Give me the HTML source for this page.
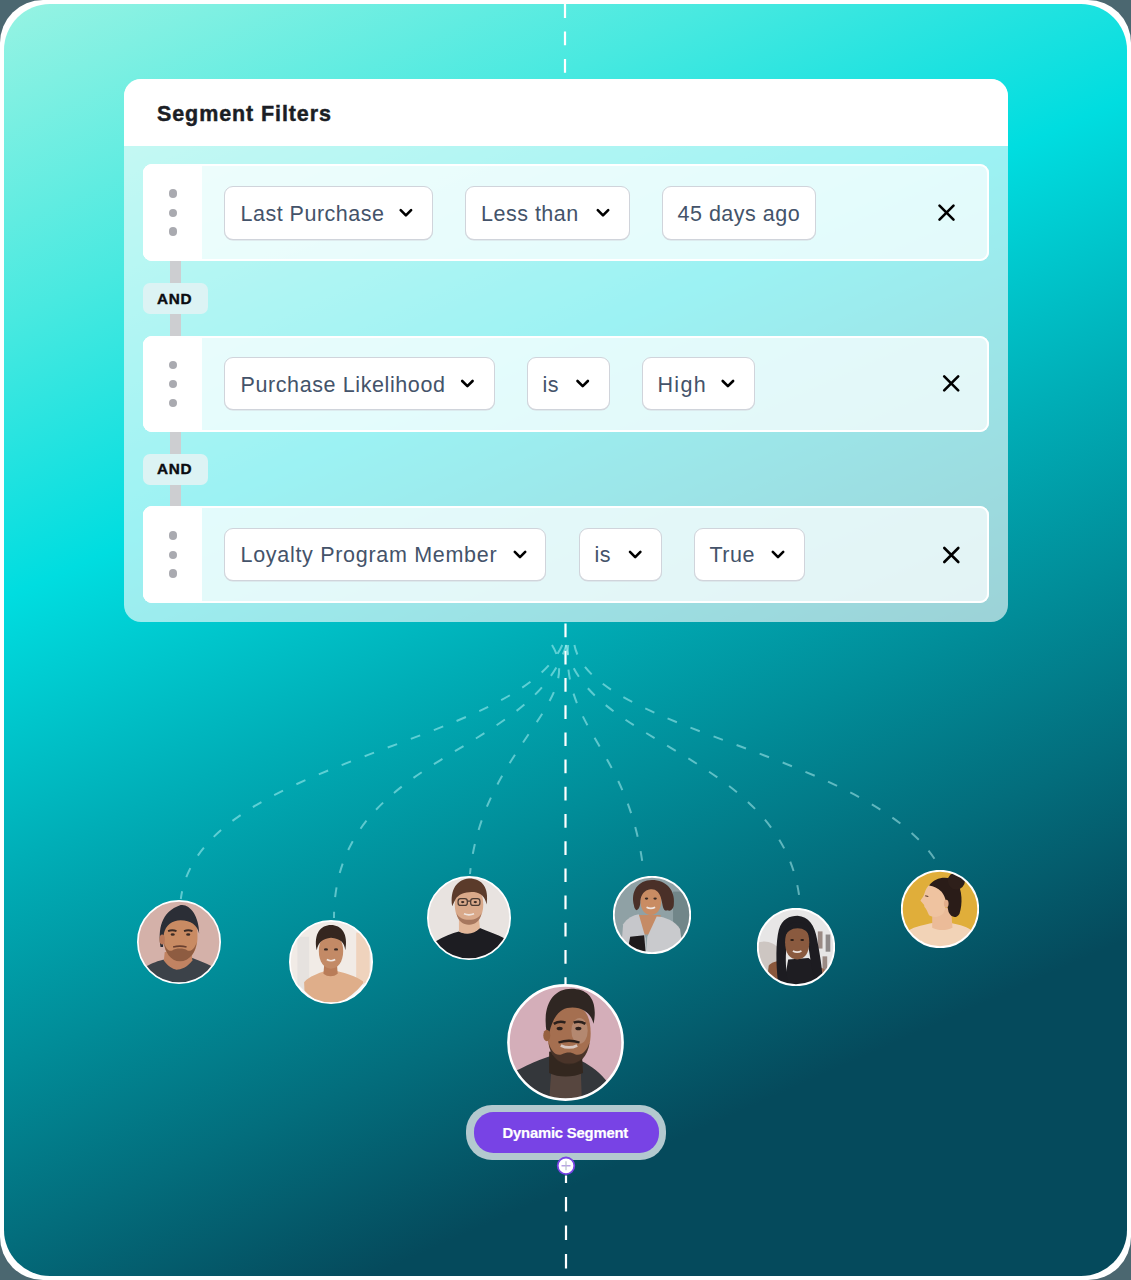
<!DOCTYPE html>
<html><head><meta charset="utf-8">
<style>
html,body{margin:0;padding:0}
body{width:1131px;height:1280px;position:relative;overflow:hidden;background:#4b6770;font-family:"Liberation Sans",sans-serif}
.abs{position:absolute}
#frame{left:0;top:0;width:1131px;height:1280px;border-radius:43px;background:#fff}
#bg{left:4px;top:4px;width:1123px;height:1272px;border-radius:46px;
 background:linear-gradient(156deg,#97f3e3 0%,#48e9e0 18%,#00dde0 33.5%,#00aeb7 48.6%,#018c98 60%,#036d7c 70%,#054a5c 81%,#054a5c 100%)}
#card{left:124px;top:79px;width:884px;height:543px;border-radius:17px;overflow:hidden;background:rgba(255,255,255,0.61)}
#hdr{left:0;top:0;width:884px;height:66.5px;background:#fff}
.t{position:absolute;line-height:1;white-space:nowrap}
.title{font-size:21.5px;font-weight:700;color:#1b1e25;letter-spacing:0.9px;-webkit-text-stroke:0.45px #1b1e25}
.row{position:absolute;left:142.8px;width:846.2px;height:96.3px;border-radius:9px;background:rgba(255,255,255,0.72);box-sizing:border-box;overflow:hidden;box-shadow:inset 0 0 0 2px #fff}
.grip{position:absolute;left:0;top:0;width:59px;height:100%;background:#fff}
.dot{position:absolute;left:25.8px;width:8.2px;height:8.2px;border-radius:50%;background:#a9aab0}
.chip{position:absolute;height:53.7px;box-sizing:border-box;border:1.2px solid #d0d4db;border-radius:9px;background:#fff;box-shadow:0 0.6px 0 #d5d9df}
.ct{font-size:21.5px;color:#44536a;letter-spacing:0.5px}
.and{position:absolute;left:143px;width:65px;height:30.5px;border-radius:7px;background:#dcf3f4}
.andt{font-size:15.3px;font-weight:700;color:#0b0d10;letter-spacing:0.75px;-webkit-text-stroke:0.4px #0b0d10}
.bar{position:absolute;left:170.3px;width:10.5px;background:#cdced1}
</style></head><body>
<div id="frame" class="abs"></div>
<div id="bg" class="abs"></div>

<!-- lines -->
<svg class="abs" style="left:0;top:0" width="1131" height="1280" viewBox="0 0 1131 1280">
 <g stroke="#fff" stroke-width="2.2" fill="none">
  <line x1="565" y1="4" x2="565" y2="79" stroke-dasharray="13.9 13.55" stroke-dashoffset="0"/>
  <line x1="565.5" y1="623.6" x2="565.5" y2="985" stroke-dasharray="13.7 13.5"/>
  <line x1="566" y1="1175.4" x2="566" y2="1276" stroke-dasharray="14.3 14.2" stroke-dashoffset="6.8"/>
 </g>
 <g stroke="rgba(200,255,255,0.47)" stroke-width="2" fill="none" stroke-dasharray="10 14.6">
  <path d="M562.3 645 C516.7 746.7, 198.7 758.7, 180.8 899"/>
  <path d="M566.3 645 C530.7 757.4, 334.1 754.6, 334 918"/>
  <path d="M552 645 C587.1 702.3, 481.8 749.5, 470 874"/>
  <path d="M568.1 645 C561.9 730.7, 631 749.6, 644 875.5"/>
  <path d="M565.8 645 C583.4 745.2, 784.1 754.1, 799.8 901"/>
  <path d="M574.4 645 C591.7 733.7, 881.9 753.3, 941.5 870.7"/>
 </g>
</svg>

<div id="card" class="abs">
 <div id="hdr" class="abs"></div>
</div>
<div class="t title" style="left:157px;top:104.4px">Segment Filters</div>

<!-- connector bars -->
<div class="bar" style="top:261px;height:75px"></div>
<div class="bar" style="top:432px;height:75px"></div>

<!-- row 1 -->
<div class="row" style="top:164.4px"><div class="grip"></div>
 <div class="dot" style="top:25.1px"></div><div class="dot" style="top:44.2px"></div><div class="dot" style="top:63px"></div></div>
<div class="and" style="top:283px"></div>
<div class="t andt" style="left:157px;top:290.7px">AND</div>
<!-- row 2 -->
<div class="row" style="top:335.6px"><div class="grip"></div>
 <div class="dot" style="top:25.1px"></div><div class="dot" style="top:44.2px"></div><div class="dot" style="top:63px"></div></div>
<div class="and" style="top:454px"></div>
<div class="t andt" style="left:157px;top:461.2px">AND</div>
<!-- row 3 -->
<div class="row" style="top:506.4px"><div class="grip"></div>
 <div class="dot" style="top:25.1px"></div><div class="dot" style="top:44.2px"></div><div class="dot" style="top:63px"></div></div>

<!-- chips -->
<div class="chip" style="left:223.8px;top:185.9px;width:208.8px"></div>
<div class="chip" style="left:464.7px;top:185.9px;width:165.1px"></div>
<div class="chip" style="left:661.9px;top:185.9px;width:154.2px"></div>
<div class="chip" style="left:224.0px;top:356.8px;width:270.9px"></div>
<div class="chip" style="left:526.9px;top:356.8px;width:82.7px"></div>
<div class="chip" style="left:641.8px;top:356.8px;width:112.8px"></div>
<div class="chip" style="left:224.2px;top:527.7px;width:321.9px"></div>
<div class="chip" style="left:578.9px;top:527.7px;width:82.7px"></div>
<div class="chip" style="left:694.0px;top:527.7px;width:110.6px"></div>

<div class="t ct" style="left:240.5px;top:203.8px">Last Purchase</div>
<div class="t ct" style="left:481px;top:203.8px">Less than</div>
<div class="t ct" style="left:677.5px;top:203.8px">45 days ago</div>
<div class="t ct" style="left:240.5px;top:374.5px;letter-spacing:0.6px">Purchase Likelihood</div>
<div class="t ct" style="left:542.5px;top:374.5px">is</div>
<div class="t ct" style="left:657.5px;top:374.5px;letter-spacing:1.3px">High</div>
<div class="t ct" style="left:240.5px;top:545.4px;letter-spacing:0.7px">Loyalty Program Member</div>
<div class="t ct" style="left:594.5px;top:545.4px">is</div>
<div class="t ct" style="left:709.5px;top:545.4px">True</div>

<!-- icons -->
<svg class="abs" style="left:0;top:0" width="1131" height="1280" viewBox="0 0 1131 1280">
 <g stroke="#000" stroke-width="2.6" fill="none" stroke-linecap="round" stroke-linejoin="round">
  <path d="M400.7 210.1 L405.9 215.3 L411.1 210.1"/>
  <path d="M597.8 210.1 L603 215.3 L608.2 210.1"/>
  <path d="M462.2 381 L467.4 386.2 L472.6 381"/>
  <path d="M577.5 381 L582.7 386.2 L587.9 381"/>
  <path d="M722.7 381 L727.9 386.2 L733.1 381"/>
  <path d="M514.8 551.9 L520 557.1 L525.2 551.9"/>
  <path d="M630 551.9 L635.2 557.1 L640.4 551.9"/>
  <path d="M772.8 551.9 L778 557.1 L783.2 551.9"/>
 </g>
 <g stroke="#000" stroke-width="2.6" fill="none" stroke-linecap="round">
  <path d="M939.5 205.6 L953.5 219.6 M953.5 205.6 L939.5 219.6"/>
  <path d="M944.2 376.4 L958.2 390.4 M958.2 376.4 L944.2 390.4"/>
  <path d="M944.3 548 L958.3 562 M958.3 548 L944.3 562"/>
 </g>
</svg>


<!-- avatars -->
<svg class="abs" style="left:136.5px;top:900px" width="84" height="84" viewBox="0 0 100 100">
 <defs><clipPath id="c1"><circle cx="50" cy="50" r="49"/></clipPath></defs>
 <g clip-path="url(#c1)">
  <rect width="100" height="100" fill="#d4b1a9"/>
  <path d="M8 100 L11 79 C18 75 26 72 31 71 L66 69 C74 72 82 75 89 79 L94 100 Z" fill="#3c4249"/>
  <path d="M33 62 L65 62 L66 72 C60 80 52 83 47 83 C42 82 36 78 32 72 Z" fill="#c18362"/>
  <path d="M31 42 C31 22 40 18 52 18 C64 18 73 24 72 44 C72 58 66 72 51 73 C37 72 31 58 31 42 Z" fill="#c98b63"/>
  <path d="M32 50 C33 62 40 73 51 73 C63 73 70 62 71 50 C69 58 64 62 60 60 C56 57 46 57 42 60 C38 62 34 58 32 50 Z" fill="#8e5c41"/>
  <path d="M43 56 Q51 54 59 56" stroke="#6a4030" stroke-width="2" fill="none"/>
  <path d="M37 37 Q42 35 47 37 M56 37 Q61 35 66 37" stroke="#3a2a24" stroke-width="2.2" fill="none"/>
  <ellipse cx="42.5" cy="41" rx="2.5" ry="1.5" fill="#3a2a24"/><ellipse cx="61" cy="41" rx="2.5" ry="1.5" fill="#3a2a24"/>
  <path d="M28 56 C25 36 28 14 52 6 C62 4 74 18 74 40 C72 30 64 24 52 24 C42 24 34 30 32 40 L31 56 Z" fill="#2b2e36"/>
  <ellipse cx="30" cy="47" rx="3.2" ry="6" fill="#b9795a"/>
 </g>
 <circle cx="50" cy="50" r="49" fill="none" stroke="#fff" stroke-width="2"/>
</svg>

<svg class="abs" style="left:288.5px;top:920px" width="84" height="84" viewBox="0 0 100 100">
 <defs><clipPath id="c2"><circle cx="50" cy="50" r="49"/></clipPath></defs>
 <g clip-path="url(#c2)">
  <rect width="100" height="100" fill="#f1ebe6"/>
  <rect x="80" y="15" width="16" height="60" fill="#efd3bd"/>
  <rect x="10" y="20" width="14" height="65" fill="#e6e2df"/>
  <path d="M19 100 L18 74 C24 67 36 63 42 61 L58 61 C66 63 80 67 88 73 L92 100 Z" fill="#dfae8a"/>
  <path d="M8 100 L12 78 C18 84 26 92 36 98 L40 100 Z" fill="#f4f6f8"/>
  <path d="M58 100 C70 94 80 86 88 76 L96 84 L96 100 Z" fill="#f4f6f8"/>
  <path d="M42 52 L57 52 L58 64 C53 68 46 68 41 64 Z" fill="#b97c58"/>
  <path d="M35.5 37 C35.5 24 42 17 50 17 C58 17 64.5 24 64.5 37 C64.5 50 58 58 50 58 C42 58 35.5 50 35.5 37 Z" fill="#c38a66"/>
  <path d="M45 47 Q50 50 55 47" stroke="#f0e6e1" stroke-width="2" fill="none"/>
  <ellipse cx="44" cy="35" rx="2.4" ry="1.4" fill="#3a2a24"/><ellipse cx="56" cy="35" rx="2.4" ry="1.4" fill="#3a2a24"/>
  <path d="M33 36 C29 16 38 6 50 6 C62 6 71 16 67 36 C66 26 61 22 50 21 C40 22 35 26 33 36 Z" fill="#35261f"/>
 </g>
 <circle cx="50" cy="50" r="49" fill="none" stroke="#fff" stroke-width="2"/>
</svg>

<svg class="abs" style="left:426.5px;top:876px" width="84" height="84" viewBox="0 0 100 100">
 <defs><clipPath id="c3"><circle cx="50" cy="50" r="49"/></clipPath></defs>
 <g clip-path="url(#c3)">
  <rect width="100" height="100" fill="#e8e3e0"/>
  <path d="M6 100 L10 78 C20 72 30 68 38 66 C46 70 56 68 63 62 C72 66 84 70 92 74 L96 100 Z" fill="#1d1d22"/>
  <path d="M38 52 L62 52 L63 62 C56 70 46 70 38 66 Z" fill="#e2b698"/>
  <path d="M33 34 C33 18 40 12 50 12 C60 12 67 18 67 34 C67 48 60 58 50 58 C40 58 33 48 33 34 Z" fill="#d9a98a"/>
  <path d="M35 44 C37 54 43 58 50 58 C57 58 63 54 65 44 C62 50 57 52 50 52 C43 52 38 50 35 44 Z" fill="#a7775e"/>
  <path d="M44 45 Q50 47.5 56 45" stroke="#efe4de" stroke-width="2" fill="none"/>
  <g fill="none" stroke="#4a3a32" stroke-width="1.5"><rect x="37" y="27" width="11" height="8" rx="3"/><rect x="52" y="27" width="11" height="8" rx="3"/><path d="M48 30 L52 30"/></g>
  <ellipse cx="42.5" cy="31" rx="2" ry="1.3" fill="#3a2a24"/><ellipse cx="57.5" cy="31" rx="2" ry="1.3" fill="#3a2a24"/>
  <path d="M30 36 C27 16 36 4 50 3 C66 3 74 14 71 34 C69 24 64 20 56 19 C48 19 40 20 35 26 C33 29 32 32 30 36 Z" fill="#5b3b2b"/>
 </g>
 <circle cx="50" cy="50" r="49" fill="none" stroke="#fff" stroke-width="2"/>
</svg>

<svg class="abs" style="left:612.7px;top:876px" width="78" height="78" viewBox="0 0 100 100">
 <defs><clipPath id="c4"><circle cx="50" cy="50" r="49"/></clipPath></defs>
 <g clip-path="url(#c4)">
  <rect width="100" height="100" fill="#8fa1a5"/>
  <rect x="77" y="20" width="23" height="80" fill="#718689"/>
  <path d="M31 50 L61 50 L60 75 L33 75 Z" fill="#c58b65"/>
  <path d="M17 100 L18 72 L40 100 Z" fill="#1f1b1c"/>
  <path d="M10 100 L13 62 C18 54 26 50 33 49 L42 80 L42 100 Z" fill="#c6c7cb"/>
  <path d="M42 100 L44 78 L56 52 C66 52 80 58 86 68 L90 100 Z" fill="#c9cacd"/>
  <path d="M18 100 L22 78 L40 76 L42 100 Z" fill="#1f1b1c"/>
  <path d="M35 31 C35 18 41 12 48.5 12 C56 12 62 18 62 31 C62 43 56 50 48.5 50 C41 50 35 43 35 31 Z" fill="#c98c63"/>
  <path d="M43 40 Q48.5 43 54 40" stroke="#f0e6e1" stroke-width="2.2" fill="none"/>
  <ellipse cx="43" cy="29" rx="2.2" ry="1.3" fill="#3a2a24"/><ellipse cx="54" cy="29" rx="2.2" ry="1.3" fill="#3a2a24"/>
  <path d="M27 38 C22 20 32 5 50 5 C68 5 80 18 78 36 C78 42 74 46 70 44 C64 46 64 38 62 30 C60 20 54 16 48 17 C40 18 36 24 35 32 C35 38 34 42 30 44 C28 42 27 40 27 38 Z" fill="#4a3028"/>
 </g>
 <circle cx="50" cy="50" r="49" fill="none" stroke="#fff" stroke-width="2.4"/>
</svg>

<svg class="abs" style="left:756.7px;top:908px" width="78" height="78" viewBox="0 0 100 100">
 <defs><clipPath id="c5"><circle cx="50" cy="50" r="49"/></clipPath></defs>
 <g clip-path="url(#c5)">
  <rect width="100" height="100" fill="#e7e6e6"/>
  <path d="M0 45 C10 40 22 44 28 52 L28 100 L0 100 Z" fill="#cdc6c2"/>
  <rect x="78" y="30" width="6" height="22" fill="#9a8a84"/><rect x="88" y="34" width="6" height="22" fill="#8f8a8a"/>
  <rect x="84" y="62" width="6" height="20" fill="#9a8a84"/>
  <path d="M12 100 L15 74 C18 70 24 68 30 68 L36 100 Z" fill="#8a583c"/>
  <path d="M76 100 L78 76 C84 76 90 80 93 86 L92 100 Z" fill="#9b6a52"/>
  <path d="M34 100 L40 66 L66 64 L80 74 L82 100 Z" fill="#1e1d22"/>
  <path d="M27 96 C24 70 24 44 28 28 C32 14 42 10 52 10 C66 11 74 22 77 40 C80 56 84 78 84 92 L74 94 C70 78 68 62 66 50 L38 50 C36 64 37 80 40 98 Z" fill="#1d1c21"/>
  <path d="M36 44 C36 30 42 22 51.5 22 C61 22 67 30 67 44 C67 58 61 66 51.5 66 C42 66 36 58 36 44 Z" fill="#8a5a3f"/>
  <path d="M46 55 Q51.5 58 57 55" stroke="#ece2dd" stroke-width="2.2" fill="none"/>
  <ellipse cx="45" cy="41" rx="2.4" ry="1.4" fill="#2a1c16"/><ellipse cx="58" cy="41" rx="2.4" ry="1.4" fill="#2a1c16"/>
  <path d="M34 40 C34 26 40 18 52 18 C64 18 70 26 69 40 C66 30 60 26 52 26 C44 26 38 30 34 40 Z" fill="#1d1c21"/>
 </g>
 <circle cx="50" cy="50" r="49" fill="none" stroke="#fff" stroke-width="2.4"/>
</svg>

<svg class="abs" style="left:900.8px;top:870px" width="78" height="78" viewBox="0 0 100 100">
 <defs><clipPath id="c6"><circle cx="50" cy="50" r="49"/></clipPath></defs>
 <g clip-path="url(#c6)">
  <rect width="100" height="100" fill="#e0ae3a"/>
  <path d="M6 100 L9 78 C18 72 32 70 40 68 L64 68 C76 70 86 74 92 78 L96 100 Z" fill="#f2d3b7"/>
  <path d="M26 90 L34 100 L24 100 Z" fill="#f6f2ee"/>
  <path d="M40 50 L64 48 L66 74 C58 78 48 78 40 74 Z" fill="#ebbb98"/>
  <path d="M37 19 C44 16 52 20 56 28 C58 40 58 50 54 56 C50 60 42 62 36 58 C34 54 33 50 30 47 C30 45 29 44 28 43 C27 41 25 40 25 39 C27 36 29 34 30 30 C32 24 34 21 37 19 Z" fill="#efc3a0"/>
  <path d="M36 20 C44 8 62 7 71 15 C79 25 79 44 75 56 C71 63 64 61 61 54 C59 44 57 34 52 28 C47 23 42 21 36 20 Z" fill="#2a1c18"/>
  <circle cx="71" cy="14" r="11" fill="#2e1f1a"/>
  <ellipse cx="58" cy="43" rx="3" ry="5" fill="#e2ad8a"/>
  <path d="M31 33 L35 34" stroke="#5a3a2a" stroke-width="1.4"/>
 </g>
 <circle cx="50" cy="50" r="49" fill="none" stroke="#fff" stroke-width="2.4"/>
</svg>

<svg class="abs" style="left:506.6px;top:984px" width="117" height="117" viewBox="0 0 100 100">
 <defs><clipPath id="c7"><circle cx="50" cy="50" r="49"/></clipPath></defs>
 <g clip-path="url(#c7)">
  <rect width="100" height="100" fill="#d4aeb9"/>
  <path d="M5 100 L8 74 C16 70 24 66 30 64 L36 62 L64 66 C72 70 80 76 86 84 L90 100 Z" fill="#34373b"/>
  <path d="M36 100 L38 72 L63 72 L64 100 Z" fill="#57463f"/>
  <path d="M36 58 C42 56 58 56 64 60 L65 76 C56 80 44 80 36 76 Z" fill="#33271f"/>
  <path d="M34.5 42 C34.5 24 42 18 53 18 C64 18 71.5 24 71.5 42 C71.5 58 64 68 53 68 C42 68 34.5 58 34.5 42 Z" fill="#a56f50"/>
  <ellipse cx="62" cy="40" rx="7" ry="11" fill="#bb937e" opacity="0.7"/>
  <path d="M35.5 50 C37 62 44 69 53 69 C62 69 69 62 70.5 50 C68 58 63 62 58 60 C55 58 51 58 47 60 C42 62 38 58 35.5 50 Z" fill="#3a2a22" opacity="0.85"/>
  <path d="M44 50 Q53 47 62 50" stroke="#2b201c" stroke-width="2" fill="none"/>
  <path d="M46 52.5 Q53 56 60 52.5" stroke="#d8c6bf" stroke-width="2.3" fill="none"/>
  <path d="M40 34 Q45 31 50 33 M57 33 Q62 31 67 34" stroke="#2b201c" stroke-width="2.2" fill="none"/>
  <ellipse cx="45" cy="38" rx="2.6" ry="1.5" fill="#2b201c"/><ellipse cx="61" cy="38" rx="2.6" ry="1.5" fill="#2b201c"/>
  <path d="M34 42 C30 20 38 4 55 4 C70 4 78 14 74 34 C72 26 66 20 56 20 C46 20 40 26 36 42 Z" fill="#2f2622"/>
  <ellipse cx="34" cy="44" rx="3" ry="5" fill="#97613f"/>
 </g>
 <circle cx="50" cy="50" r="48.8" fill="none" stroke="#fff" stroke-width="2.2"/>
</svg>

<!-- button -->
<div class="abs" style="left:466.3px;top:1104.8px;width:199.3px;height:55.4px;border-radius:26px;background:#b3c9cf"></div>
<div class="abs" style="left:474px;top:1111.8px;width:184.5px;height:41.2px;border-radius:19.5px;background:#7843e5"></div>
<div class="t" style="left:502.5px;top:1125.6px;font-size:14.8px;font-weight:700;color:#fff;letter-spacing:-0.18px;-webkit-text-stroke:0.2px #fff">Dynamic Segment</div>
<svg class="abs" style="left:556px;top:1156px" width="20" height="20" viewBox="0 0 20 20">
 <circle cx="10" cy="9.8" r="8.3" fill="#fff" stroke="#7843e5" stroke-width="1.8"/>
 <path d="M5.5 9.8 H14.5" stroke="#a58ae0" stroke-width="1.2"/>
 <path d="M10 5.3 V14.3" stroke="#b9c0cc" stroke-width="1.2"/>
</svg>

</body></html>
